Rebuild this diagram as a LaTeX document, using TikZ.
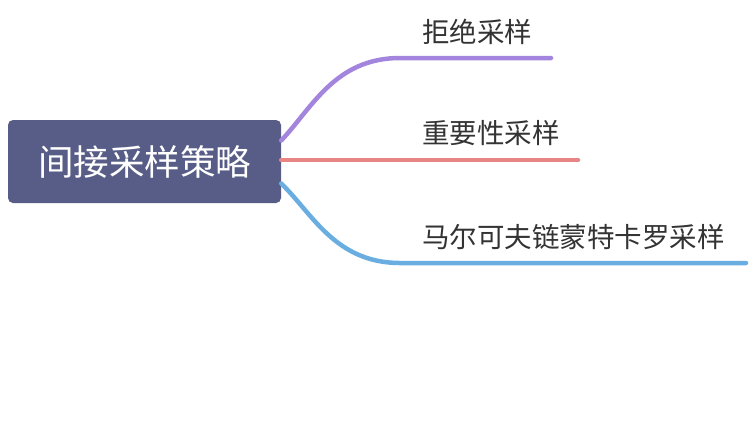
\documentclass[tikz,border=0pt]{standalone}
\usepackage{fontspec}
\newfontfamily\cjk{Noto Sans CJK SC}
\usepackage{tikz}
\usetikzlibrary{positioning,calc}
\definecolor{slate}{HTML}{575D86}
\definecolor{textgray}{HTML}{333333}
\definecolor{purple}{HTML}{A385DD}
\definecolor{salmon}{HTML}{E88585}
\definecolor{skyblue}{HTML}{6AAEE1}

\begin{document}
\begin{tikzpicture}[x=1pt,y=-1pt,font=\cjk,
  topic/.style={fill=slate,rounded corners=5pt,text=white,font=\cjk\fontsize{35.5}{40}\selectfont,minimum width=273pt,minimum height=83pt,inner sep=0pt},
  sub/.style={anchor=west,text=textgray,font=\cjk\fontsize{27.5}{30}\selectfont,inner sep=0pt},
  branch/.style={line width=4.5pt,line cap=round}]
  \useasboundingbox (0,0) rectangle (752,421);
  \node[topic] (root) at (144.5,161.5) {间接采样策略};
  \node[sub] (reject) at (422,32) {拒绝采样};
  \node[sub] (importance) at (422,133) {重要性采样};
  \node[sub] (mcmc) at (422,237) {马尔可夫链蒙特卡罗采样};
  \coordinate (rejectend) at (551,58);
  \coordinate (importanceend) at (578,160);
  \coordinate (mcmcend) at (746,263);
  \draw[branch,purple] ($(root.east)+(0,-21)$) .. controls (312,108) and (335,58) .. (400,58) -- (rejectend);
  \draw[branch,salmon] ($(root.east)+(0,-1.5)$) -- (importanceend);
  \draw[branch,skyblue] ($(root.east)+(0,22)$) .. controls (312,213) and (335,263) .. (400,263) -- (mcmcend);
\end{tikzpicture}
\end{document}
